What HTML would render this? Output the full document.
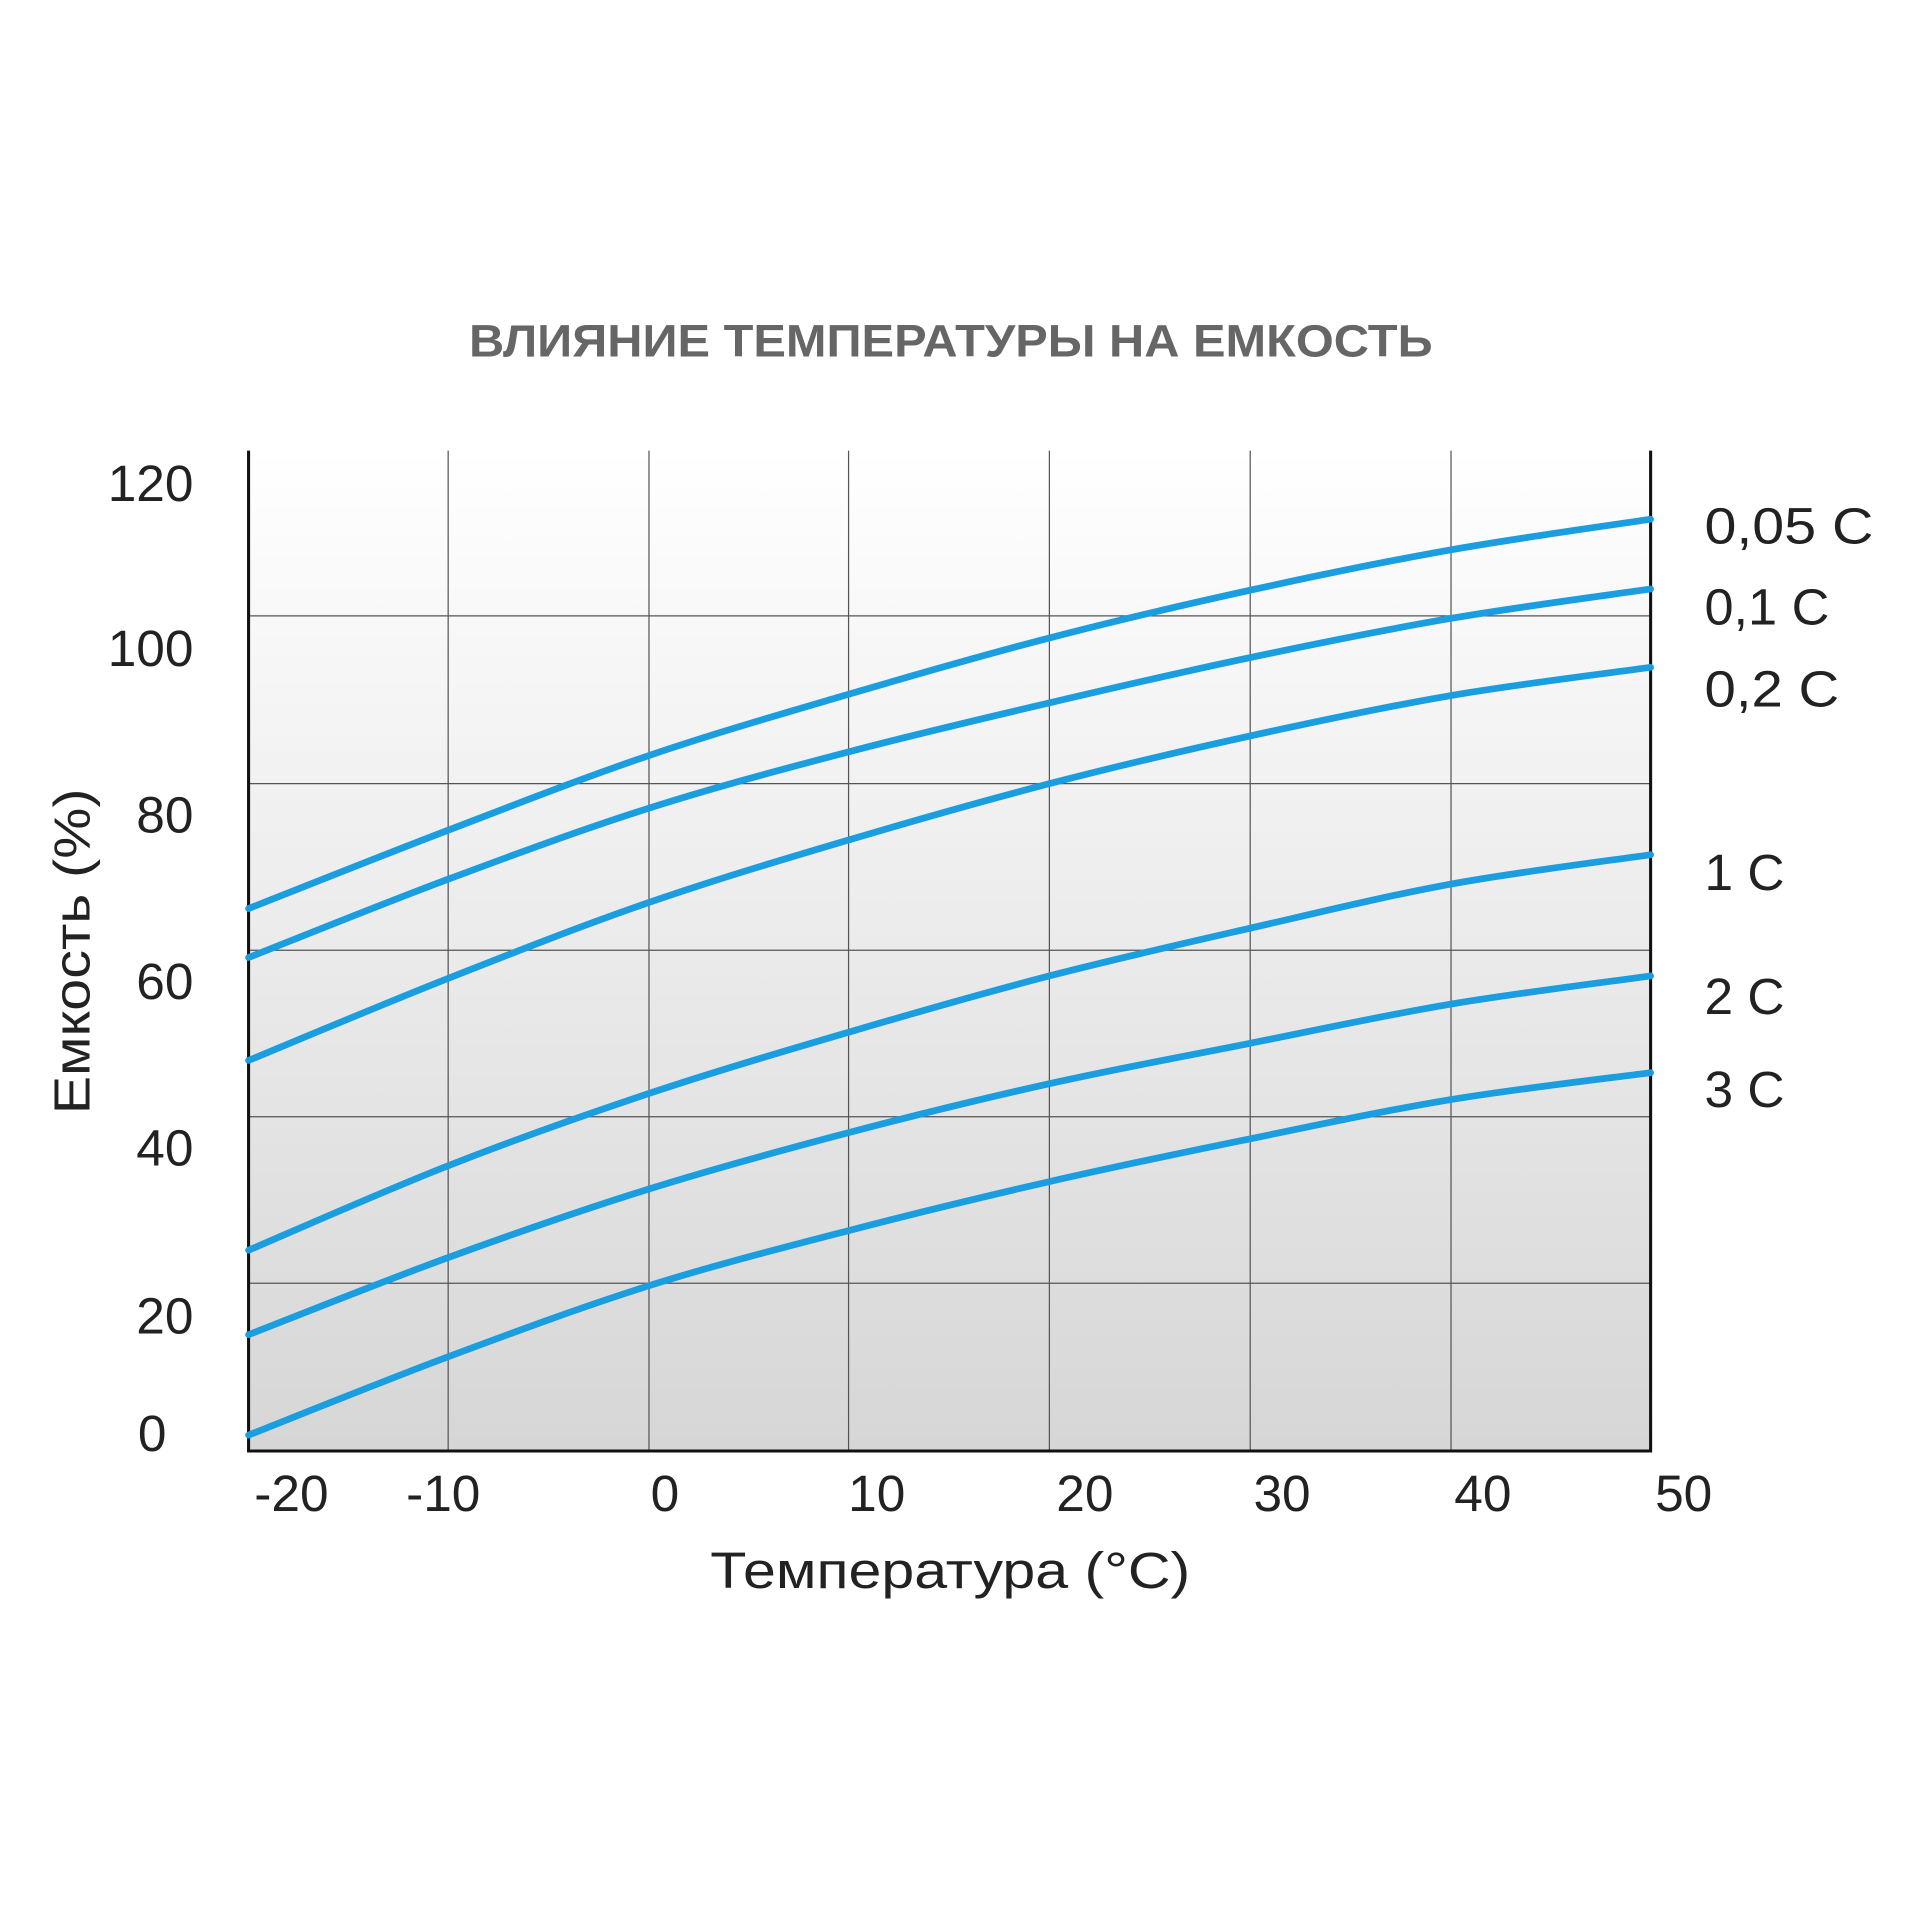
<!DOCTYPE html>
<html><head><meta charset="utf-8"><style>
html,body{margin:0;padding:0;background:#fff;}
svg{display:block;}
text{font-family:"Liberation Sans",sans-serif;}
</style></head><body>
<svg width="1920" height="1920" viewBox="0 0 1568 1568" xmlns="http://www.w3.org/2000/svg">
<defs>
<linearGradient id="bg" x1="0" y1="0" x2="0" y2="1">
<stop offset="0" stop-color="#ffffff"/>
<stop offset="1" stop-color="#d6d6d6"/>
</linearGradient>
</defs>
<rect width="1568" height="1568" fill="#fff"/>
<text x="383" y="291" textLength="787" lengthAdjust="spacingAndGlyphs" font-size="37" font-weight="bold" fill="#666">ВЛИЯНИЕ ТЕМПЕРАТУРЫ НА ЕМКОСТЬ</text>
<rect x="203" y="368" width="1145" height="817" fill="url(#bg)"/>
<g stroke="#555" stroke-width="1">
<line x1="366" y1="368" x2="366" y2="1185"/>
<line x1="530" y1="368" x2="530" y2="1185"/>
<line x1="693" y1="368" x2="693" y2="1185"/>
<line x1="857" y1="368" x2="857" y2="1185"/>
<line x1="1021" y1="368" x2="1021" y2="1185"/>
<line x1="1185" y1="368" x2="1185" y2="1185"/>
<line x1="203" y1="503" x2="1348" y2="503"/>
<line x1="203" y1="640" x2="1348" y2="640"/>
<line x1="203" y1="776" x2="1348" y2="776"/>
<line x1="203" y1="912" x2="1348" y2="912"/>
<line x1="203" y1="1048" x2="1348" y2="1048"/>
</g>
<g stroke="#111" stroke-width="2.5" fill="none">
<polyline points="203,368 203,1185 1348,1185 1348,368"/>
</g>
<g id="curves" stroke="#1a9ee0" stroke-width="5.5" fill="none" stroke-linecap="round"></g>
<g font-size="42" fill="#222">
<text x="158" y="409" text-anchor="end">120</text>
<text x="158" y="544" text-anchor="end">100</text>
<text x="158" y="680" text-anchor="end">80</text>
<text x="158" y="816" text-anchor="end">60</text>
<text x="158" y="952" text-anchor="end">40</text>
<text x="158" y="1089" text-anchor="end">20</text>
<text x="136" y="1185" text-anchor="end">0</text>
</g>
<g font-size="42" fill="#222" text-anchor="middle">
<text x="238" y="1234">-20</text>
<text x="362" y="1234">-10</text>
<text x="543" y="1234">0</text>
<text x="716" y="1234">10</text>
<text x="886" y="1234">20</text>
<text x="1047" y="1234">30</text>
<text x="1211" y="1234">40</text>
<text x="1375" y="1234">50</text>
</g>
<g font-size="42" fill="#222">
<text x="1392" y="444" textLength="138" lengthAdjust="spacingAndGlyphs">0,05 C</text>
<text x="1392" y="510" textLength="102" lengthAdjust="spacingAndGlyphs">0,1 C</text>
<text x="1392" y="577" textLength="110" lengthAdjust="spacingAndGlyphs">0,2 C</text>
<text x="1392" y="727">1 C</text>
<text x="1392" y="828">2 C</text>
<text x="1392" y="904">3 C</text>
</g>
<text x="776" y="1297" text-anchor="middle" font-size="42" fill="#222" textLength="392" lengthAdjust="spacingAndGlyphs">Температура (°C)</text>
<text transform="translate(73,777) rotate(-90)" text-anchor="middle" font-size="42" fill="#222" textLength="266" lengthAdjust="spacingAndGlyphs">Емкость (%)</text>
</svg>
<script>
var xs=[203,366,530,693,857,1021,1185,1348];
var ys=[[742,678,617,567,521,482,449,424],[782,718,660,614,574,537,505,481],[866,799,737,686,640,601,568,545],[1021,952,893,843,797,758,722,698],[1090,1027,971,925,885,852,820,797],[1172,1108,1050,1005,965,930,898,876]];
var g=document.getElementById('curves');
ys.forEach(function(y){
var p=xs.map(function(x,i){return [x,y[i]];});
var d='M'+p[0][0]+','+p[0][1];
for(var i=0;i<p.length-1;i++){
var p0=p[i-1]||p[i],p1=p[i],p2=p[i+1],p3=p[i+2]||p[i+1];
var c1=[p1[0]+(p2[0]-p0[0])/6,p1[1]+(p2[1]-p0[1])/6];
var c2=[p2[0]-(p3[0]-p1[0])/6,p2[1]-(p3[1]-p1[1])/6];
d+=' C'+c1[0]+','+c1[1]+' '+c2[0]+','+c2[1]+' '+p2[0]+','+p2[1];
}
var e=document.createElementNS('http://www.w3.org/2000/svg','path');
e.setAttribute('d',d);g.appendChild(e);
});
</script>
</body></html>
